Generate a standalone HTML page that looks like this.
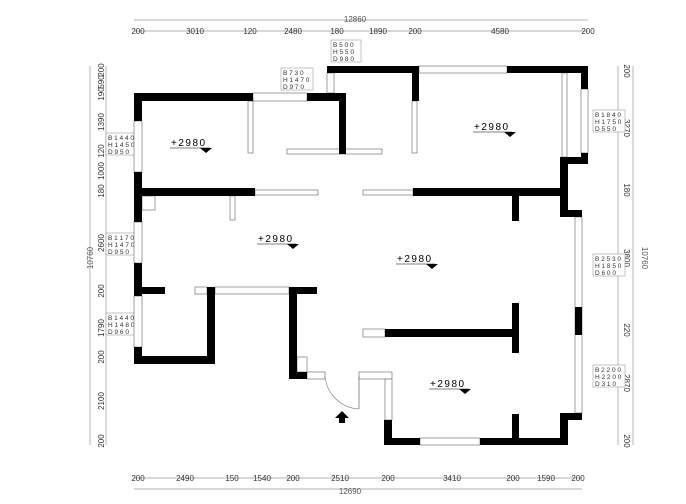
<!DOCTYPE html>
<html><head><meta charset="utf-8"><style>
html,body{margin:0;padding:0;background:#fff;width:686px;height:504px;overflow:hidden}
svg{display:block}
text{font-family:"Liberation Sans",sans-serif;fill:#333}
.d{font-size:8px;text-anchor:middle}
.e{font-size:10px;fill:#000;letter-spacing:1.5px}
.b{font-size:6.5px;fill:#222}
</style></head><body>
<svg width="686" height="504" viewBox="0 0 686 504" xmlns="http://www.w3.org/2000/svg">
<g stroke="#999" stroke-width="0.7" fill="none">
<line x1="134" y1="20" x2="588" y2="20"/><line x1="134" y1="31" x2="588" y2="31"/>
<line x1="134" y1="478" x2="582" y2="478"/><line x1="134" y1="489" x2="582" y2="489"/>
<line x1="90" y1="66" x2="90" y2="445"/><line x1="106" y1="66" x2="106" y2="445"/>
<line x1="633" y1="66" x2="633" y2="445"/><line x1="618" y1="66" x2="618" y2="445"/>
</g>
<g class="d">
<text x="355" y="22" style="fill:#555">12860</text>
<text x="138" y="34">200</text><text x="195" y="34">3010</text><text x="250" y="34">120</text><text x="293" y="34">2480</text><text x="337" y="34">180</text><text x="378" y="34">1890</text><text x="415" y="34">200</text><text x="500" y="34">4580</text><text x="588" y="34">200</text>
<text x="138" y="481">200</text><text x="185" y="481">2490</text><text x="232" y="481">150</text><text x="262" y="481">1540</text><text x="293" y="481">200</text><text x="340" y="481">2510</text><text x="388" y="481">200</text><text x="452" y="481">3410</text><text x="513" y="481">200</text><text x="546" y="481">1590</text><text x="578" y="481">200</text>
<text x="350" y="494" style="fill:#555">12690</text>
</g>
<g class="d">
<text transform="translate(93,258) rotate(-90)" style="fill:#555">10760</text>
<text transform="translate(104,70) rotate(-90)">200</text><text transform="translate(104,82) rotate(-90)">590</text><text transform="translate(104,94) rotate(-90)">190</text><text transform="translate(104,122) rotate(-90)">1390</text><text transform="translate(104,151) rotate(-90)">120</text><text transform="translate(104,171) rotate(-90)">1000</text><text transform="translate(104,191) rotate(-90)">180</text><text transform="translate(104,243) rotate(-90)">2600</text><text transform="translate(104,291) rotate(-90)">200</text><text transform="translate(104,328) rotate(-90)">1790</text><text transform="translate(104,357) rotate(-90)">200</text><text transform="translate(104,401) rotate(-90)">2100</text><text transform="translate(104,441) rotate(-90)">200</text>
<text transform="translate(642,258) rotate(90)" style="fill:#555">10760</text>
<text transform="translate(624,71) rotate(90)">200</text><text transform="translate(624,128) rotate(90)">3270</text><text transform="translate(624,190) rotate(90)">180</text><text transform="translate(624,258) rotate(90)">3800</text><text transform="translate(624,330) rotate(90)">220</text><text transform="translate(624,383) rotate(90)">2870</text><text transform="translate(624,441) rotate(90)">200</text>
</g>
<!-- info boxes -->
<g stroke="#888" stroke-width="0.5" fill="#fff">
<rect x="331" y="40" width="30" height="22"/><rect x="281" y="68" width="32" height="22"/>
<rect x="106" y="133" width="30" height="22"/><rect x="106" y="233" width="30" height="22"/><rect x="106" y="313" width="30" height="22"/>
<rect x="593" y="110" width="32" height="22"/><rect x="593" y="254" width="32" height="22"/><rect x="593" y="365" width="32" height="22"/>
</g>
<g class="b">
<text x="333" y="47">B   5 0 0</text><text x="333" y="54">H   5 5 0</text><text x="333" y="61">D   9 8 0</text>
<text x="283" y="75">B   7 3 0</text><text x="283" y="82">H  1 4 7 0</text><text x="283" y="89">D   9 7 0</text>
<text x="108" y="140">B 1 4 4 0</text><text x="108" y="147">H 1 4 5 0</text><text x="108" y="154">D   9 5 0</text>
<text x="108" y="240">B 1 1 7 0</text><text x="108" y="247">H 1 4 7 0</text><text x="108" y="254">D   9 5 0</text>
<text x="108" y="320">B 1 4 4 0</text><text x="108" y="327">H 1 4 8 0</text><text x="108" y="334">D   9 6 0</text>
<text x="595" y="117">B  1 8 4 0</text><text x="595" y="124">H  1 7 5 0</text><text x="595" y="131">D    5 5 0</text>
<text x="595" y="261">B  2 5 3 0</text><text x="595" y="268">H  1 8 5 0</text><text x="595" y="275">D    6 0 0</text>
<text x="595" y="372">B  2 2 0 0</text><text x="595" y="379">H  2 2 0 0</text><text x="595" y="386">D    3 1 0</text>
</g>
<!-- windows / thin walls -->
<g fill="#fff" stroke="#777" stroke-width="0.7">
<rect x="134" y="121" width="8" height="51"/><rect x="134" y="222" width="8" height="41"/><rect x="134" y="296" width="8" height="51"/>
<rect x="253" y="93" width="54" height="8"/><rect x="327" y="73" width="7" height="20"/><rect x="419" y="66" width="88" height="7"/>
<rect x="581" y="89" width="7" height="64"/><rect x="575" y="217" width="7" height="196"/>
<rect x="420" y="438" width="60" height="7"/>
<rect x="255" y="190" width="63" height="5"/><rect x="363" y="190" width="50" height="5"/>
<rect x="248" y="101" width="5" height="52"/><rect x="287" y="149" width="95" height="5"/><rect x="412" y="101" width="5" height="52"/>
<rect x="230" y="196" width="5" height="24"/>
<rect x="215" y="287" width="74" height="7"/><rect x="195" y="287" width="12" height="7"/>
<rect x="307" y="372" width="18" height="7"/><rect x="359" y="372" width="33" height="7"/><rect x="385" y="379" width="7" height="41"/>
<rect x="363" y="329" width="22" height="8"/><rect x="297" y="357" width="10" height="15"/>
<rect x="142" y="196" width="13" height="14"/><rect x="562" y="73" width="5" height="84"/>
</g>
<path d="M325 376 A36 36 0 0 0 359 409" fill="none" stroke="#777" stroke-width="0.6"/>
<line x1="359" y1="376" x2="359" y2="409" stroke="#777" stroke-width="0.8"/>
<!-- walls -->
<g fill="#000">
<rect x="134" y="93" width="119" height="8"/><rect x="134" y="93" width="8" height="28"/><rect x="134" y="172" width="8" height="50"/>
<rect x="134" y="188" width="121" height="8"/>
<rect x="134" y="263" width="8" height="33"/><rect x="142" y="287" width="23" height="7"/>
<rect x="134" y="347" width="8" height="17"/><rect x="134" y="356" width="81" height="8"/><rect x="207" y="287" width="8" height="77"/>
<rect x="307" y="93" width="39" height="8"/><rect x="339" y="93" width="7" height="61"/>
<rect x="327" y="66" width="92" height="7"/><rect x="412" y="66" width="7" height="35"/>
<rect x="507" y="66" width="81" height="7"/><rect x="581" y="66" width="7" height="23"/><rect x="581" y="153" width="7" height="11"/>
<rect x="560" y="157" width="28" height="7"/><rect x="560" y="157" width="8" height="58"/>
<rect x="413" y="188" width="155" height="8"/><rect x="512" y="188" width="7" height="33"/><rect x="560" y="210" width="22" height="7"/>
<rect x="289" y="287" width="28" height="7"/><rect x="289" y="287" width="8" height="92"/><rect x="289" y="372" width="18" height="7"/>
<rect x="385" y="329" width="134" height="8"/><rect x="512" y="303" width="7" height="50"/>
<rect x="575" y="307" width="7" height="28"/>
<rect x="384" y="420" width="8" height="25"/><rect x="384" y="438" width="36" height="7"/><rect x="480" y="438" width="88" height="7"/>
<rect x="512" y="414" width="7" height="31"/><rect x="560" y="413" width="8" height="32"/><rect x="560" y="413" width="22" height="7"/>
</g>
<path d="M342 411 L335 418 L339 418 L339 423 L345 423 L345 418 L349 418 Z" fill="#000"/>
<!-- elevations -->
<g>
<text class="e" x="171" y="146">+2980</text><line x1="170" y1="148" x2="210" y2="148" stroke="#000" stroke-width="0.6"/><path d="M200 148 L212 148 L206 153Z"/>
<text class="e" x="474" y="130">+2980</text><line x1="473" y1="132" x2="512" y2="132" stroke="#000" stroke-width="0.6"/><path d="M504 132 L516 132 L510 137Z"/>
<text class="e" x="258" y="242">+2980</text><line x1="257" y1="244" x2="296" y2="244" stroke="#000" stroke-width="0.6"/><path d="M287 244 L299 244 L293 249Z"/>
<text class="e" x="397" y="262">+2980</text><line x1="396" y1="264" x2="435" y2="264" stroke="#000" stroke-width="0.6"/><path d="M426 264 L438 264 L432 269Z"/>
<text class="e" x="430" y="387">+2980</text><line x1="429" y1="389" x2="468" y2="389" stroke="#000" stroke-width="0.6"/><path d="M459 389 L471 389 L465 394Z"/>
</g>
</svg>
</body></html>
